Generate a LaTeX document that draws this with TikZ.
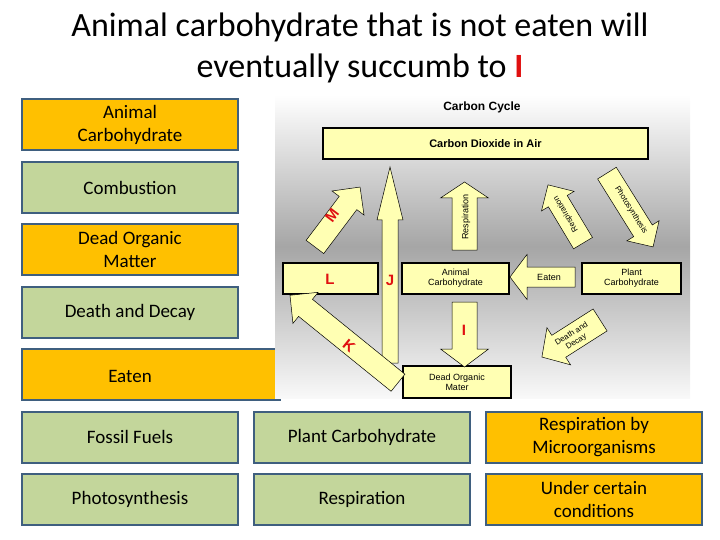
\documentclass[tikz,border=0pt]{standalone}
\usepackage{fontspec}
\setmainfont{Carlito}
\newfontfamily\diagfont{Liberation Sans}
\definecolor{answerorange}{HTML}{FFC000}
\definecolor{answergreen}{HTML}{C3D69B}
\definecolor{answeredge}{HTML}{3F5F7F}
\definecolor{cyclefill}{HTML}{FFFFB3}
\definecolor{cyclered}{HTML}{E01010}
\tikzset{
  answer/.style={draw=answeredge, line width=2pt, minimum height=51pt, inner sep=1pt,
    align=center, font=\fontsize{19}{23}\selectfont},
  orangebox/.style={answer, fill=answerorange},
  greenbox/.style={answer, fill=answergreen},
  cyclebox/.style={draw, line width=1.6pt, fill=cyclefill, align=center, inner sep=0pt,
    font=\diagfont\fontsize{9}{10}\selectfont},
  fatarrow/.style={draw, fill=cyclefill, line width=0.5pt, line join=miter},
  letter/.style={text=cyclered, font=\diagfont\bfseries\fontsize{15}{15}\selectfont},
  arrowtext/.style={font=\diagfont\fontsize{9}{10}\selectfont, align=center}
}
% \fatarrow{x}{y}{angle}{length}{shaft}{head}{head length}
\newcommand{\fatarrow}[7]{%
  \begin{scope}[shift={(#1,#2)}, x=1pt, y=1pt, rotate=#3]
    \draw[fatarrow] (-#4/2,-#5/2) -- (#4/2-#7,-#5/2) -- (#4/2-#7,-#6/2) -- (#4/2,0)
      -- (#4/2-#7,#6/2) -- (#4/2-#7,#5/2) -- (-#4/2,#5/2) -- cycle;
  \end{scope}}
\begin{document}
\begin{tikzpicture}[x=1pt,y=-1pt]
  \useasboundingbox (0,0) rectangle (720,540);

  % Title
  \node[font=\fontsize{34}{41}\selectfont, align=center] (title) at (360,48)
    {Animal carbohydrate that is not eaten will\\ eventually succumb to {\color{cyclered}\bfseries I}};

  % Answer boxes
  \node[orangebox, minimum width=216pt] (animal) at (130,124.5) {Animal\\Carbohydrate};
  \node[greenbox, minimum width=216pt] (combustion) at (130,187.5) {Combustion};
  \node[orangebox, minimum width=216pt] (dead) at (130,249.5) {Dead Organic\\Matter};
  \node[greenbox, minimum width=216pt] (decay) at (130,312.5) {Death and Decay};
  \node[orangebox, minimum width=258pt] (eaten) at (151,374.5) {};
  \node[font=\fontsize{19}{23}\selectfont] (eatenlabel) at (130,376) {Eaten};
  \node[greenbox, minimum width=216pt] (fossil) at (130,437) {Fossil Fuels};
  \node[greenbox, minimum width=216pt] (plant) at (362,437) {Plant Carbohydrate};
  \node[orangebox, minimum width=216pt] (microbes) at (594,437) {Respiration by\\Microorganisms};
  \node[greenbox, minimum width=216pt] (photo) at (130,499.5) {Photosynthesis};
  \node[greenbox, minimum width=216pt] (resp) at (362,499.5) {Respiration};
  \node[orangebox, minimum width=216pt] (conditions) at (594,499.5) {Under certain\\conditions};

  % Carbon cycle picture
  \shade[top color=white, bottom color=white!95!gray, middle color=gray!70]
    (275,95) rectangle (690,398);
  \node[font=\diagfont\bfseries\fontsize{12}{12}\selectfont] (cycletitle) at (482,107) {Carbon Cycle};
  \node[cyclebox, minimum width=325pt, minimum height=31pt,
    font=\diagfont\bfseries\fontsize{11}{11}\selectfont] (air) at (485.5,143.5) {Carbon Dioxide in Air};
  \node[cyclebox, minimum width=95pt, minimum height=31pt] (lbox) at (330.5,278.5) {};
  \node[cyclebox, minimum width=107pt, minimum height=31pt] (animalc) at (455.5,278.5) {Animal\\Carbohydrate};
  \node[cyclebox, minimum width=99pt, minimum height=31pt] (plantc) at (631.5,278.5) {Plant\\Carbohydrate};
  \node[cyclebox, minimum width=108pt, minimum height=32pt] (deadc) at (457,382) {Dead Organic\\Mater};

  % Fat arrows
  \fatarrow{390}{265}{90}{196}{16}{26}{53}
  \fatarrow{464.5}{216}{90}{68}{25}{48}{16}
  \fatarrow{464.5}{334.5}{-90}{65}{25}{48}{18}
  \fatarrow{542.5}{277}{180}{65}{20}{45}{17}
  \fatarrow{337.5}{217}{53}{75}{22}{40}{20}
  \fatarrow{344}{339}{141}{139}{22}{40}{20}
  \fatarrow{565.5}{214}{121}{68}{22}{38}{19}
  \fatarrow{630}{210}{-58}{87}{22}{38}{19}
  \fatarrow{571}{338.5}{212.5}{69}{26}{44}{20}

  % Arrow labels
  \node[letter, rotate=53] (mlabel) at (332,215) {M};
  \node[letter] (jlabel) at (390,280) {J};
  \node[letter] (llabel) at (330,279) {L};
  \node[letter] (ilabel) at (464,330) {I};
  \node[letter, rotate=-39] (klabel) at (349,346) {K};
  \node[arrowtext, rotate=90] (resplabel) at (466,217) {Respiration};
  \node[arrowtext] (eatenlbl) at (549,277) {Eaten};
  \node[arrowtext, rotate=121, font=\diagfont\fontsize{8}{9}\selectfont] (rrlabel) at (566,214) {Respiration};
  \node[arrowtext, rotate=-58, font=\diagfont\fontsize{8}{9}\selectfont] (photolabel) at (631,210) {Photosynthesis};
  \node[arrowtext, rotate=32, font=\diagfont\fontsize{8}{9}\selectfont] (ddlabel) at (574,338) {Death and\\Decay};
\end{tikzpicture}
\end{document}
